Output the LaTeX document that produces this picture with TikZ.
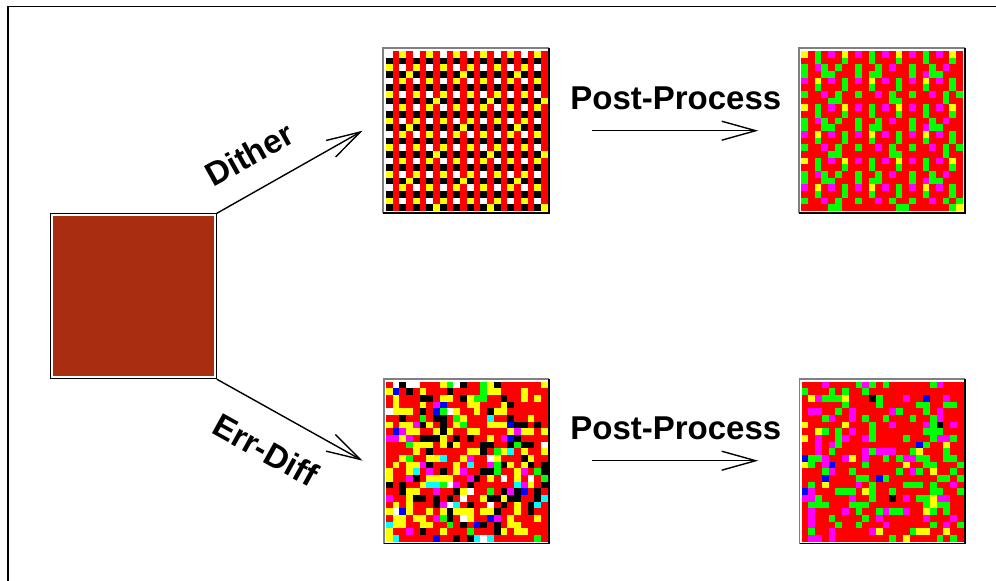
\documentclass[tikz,border=0pt]{standalone}
\usepackage{fontspec}
\setmainfont{Liberation Sans}
\usetikzlibrary{arrows.meta}
\definecolor{pcR}{RGB}{255,0,0}
\definecolor{pcY}{RGB}{255,255,0}
\definecolor{pcK}{RGB}{0,0,0}
\definecolor{pcW}{RGB}{255,255,255}
\definecolor{pcG}{RGB}{0,255,0}
\definecolor{pcM}{RGB}{255,0,255}
\definecolor{pcB}{RGB}{0,0,255}
\definecolor{pcC}{RGB}{0,255,255}
\definecolor{brownfill}{RGB}{169,45,17}
\definecolor{framegray}{RGB}{128,128,128}
\def\cw{6.74}
\def\ch{6.67}
\newcount\pgcol
\def\pgparse#1{\ifx#1.\else
  \fill[pc#1] ({\pgx+\the\pgcol*\cw},\pgy) rectangle ++(\cw+0.3,\ch+0.3);%
  \global\advance\pgcol by 1
  \expandafter\pgparse\fi}
\newcommand\pgimg[3]{%
  \def\pgx{#1}%
  \foreach \rowstr [count=\ri from 0] in {#3} {%
    \global\pgcol=0
    \pgfmathsetmacro\pgy{#2+\ri*\ch}%
    \expandafter\pgparse\rowstr.%
  }}
% random image: x, y, seed, cumulative thresholds R/Y/K/W/M/G/B (rest cyan)
\def\setthr#1/#2/#3/#4/#5/#6/#7\relax{%
  \def\tA{#1}\def\tB{#2}\def\tC{#3}\def\tD{#4}\def\tE{#5}\def\tF{#6}\def\tG{#7}}
\newcommand\rndimg[4]{%
  \setthr#4\relax
  \pgfmathsetseed{#3}%
  \foreach \r in {0,...,23}{\foreach \c in {0,...,23}{%
    \pgfmathrandominteger{\k}{1}{100}%
    \def\pick{pcR}%
    \ifnum\k>\tA\relax \def\pick{pcY}\fi
    \ifnum\k>\tB\relax \def\pick{pcK}\fi
    \ifnum\k>\tC\relax \def\pick{pcW}\fi
    \ifnum\k>\tD\relax \def\pick{pcM}\fi
    \ifnum\k>\tE\relax \def\pick{pcG}\fi
    \ifnum\k>\tF\relax \def\pick{pcB}\fi
    \ifnum\k>\tG\relax \def\pick{pcC}\fi
    \fill[\pick] ({#1+\c*\cw},{#2+\r*\ch}) rectangle ++(\cw+0.3,\ch+0.3);%
  }}}
\newcommand\imgframe[4]{%
  \draw[framegray, line width=1.5pt] (#1,#4) -- (#1,#2) -- (#3,#2);
  \draw[black, line width=1.5pt] (#3,#2) -- (#3,#4) -- (#1,#4);}
\begin{document}
\begin{tikzpicture}[x=1pt,y=-1pt,
  lbl/.style={font=\fontsize{33}{40}\selectfont\bfseries, inner sep=0pt, text height=23.6pt, text depth=0pt},
  arr/.style={-{Straight Barb[length=34pt,width=19pt]}, line width=1.4pt},
  imgbox/.style={inner sep=0pt, minimum width=166pt, minimum height=165pt}]
\useasboundingbox (0,0) rectangle (996,581);
\fill[white] (0,0) rectangle (996,581);
% outer frame
\draw[line width=1.2pt] (8,581) -- (8,6.2) -- (996,6.2);
% source
\node[draw=black, line width=1pt, fill=white, inner sep=0pt, minimum width=165.8pt, minimum height=164.9pt] (src) at (133.4,296.25) {};
\fill[brownfill] (52.7,216) rectangle (214,376);
% image nodes
\node[imgbox] (imA) at (466.2,130.5) {};
\node[imgbox] (imB) at (882,130.5) {};
\node[imgbox] (imC) at (466.5,461.3) {};
\node[imgbox] (imD) at (882.3,461.3) {};
% image A: dither
\pgimg{386}{51}{%
WRYRWRYRWRYRWRYRWRYRWRYR,KRKRKRKRKRKRKRKRKRKRKRKR,YRWRYRWRYRWRYRWRYRWRYRWR,KRKYKRKRKRKYKRKRKRKYKRKR,%
WRYRWRYRWRYRWRYRWRYRWRYR,KRKRKRKRKRKRKRKRKRKRKRKR,YRWRYRWRYRWRYRWRYRWRYRWR,KRKRKRKYKRKRKRKYKRKRKRKY,%
WRYRWRYRWRYRWRYRWRYRWRYR,KRKRKRKRKRKRKRKRKRKRKRKR,YRWRYRWRYRWRYRWRYRWRYRWR,KRKYKRKRKRKYKRKRKRKYKRKR,%
WRYRWRYRWRYRWRYRWRYRWRYR,KRKRKRKRKRKRKRKRKRKRKRKR,YRWRYRWRYRWRYRWRYRWRYRWR,KRKRKRKYKRKRKRKYKRKRKRKY,%
WRYRWRYRWRYRWRYRWRYRWRYR,KRKRKRKRKRKRKRKRKRKRKRKR,YRWRYRWRYRWRYRWRYRWRYRWR,KRKYKRKRKRKYKRKRKRKYKRKR,%
WRYRWRYRWRYRWRYRWRYRWRYR,KRKRKRKRKRKRKRKRKRKRKRKR,YRWRYRWRYRWRYRWRYRWRYRWR,KRKRKRKYKRKRKRKYKRKRKRKY}
% image B: post-processed dither
\pgimg{801.2}{51}{%
YRGRMRYRMRGRMRYRMRGRMRYR,RRGRRRGRRRGRRRGRRRGRRRGR,GRMGRGRRGRRGRMRRGRRGRMRR,GRRGGRRRGRGGRRRRGRMGGRRR,%
MRYRMRGRMRYRMRGRMRYRMRGR,RRGRRRGRRRGRRRGRRRGRRRGR,GRRMRGRRGRRMRGRRGRRMRGRG,RRRRGGRRRRRRRGGRRRRRRGRR,%
YRGRMRYRMRGRMRYRMRGRMRYR,RRGRRRGRRRGRRRGRRRGRRRGR,GRMGRGRRGRRGRMRRGRRGRMRR,GRRGGRRRGRGGRRRRGRMGGRRR,%
MRYRMRGRMRYRMRGRMRYRMRGR,RRGRRRGRRRGRRRGRRRGRRRGR,GRRMRGRRGRRMRGRRGRRMRGRG,RRRRGGRRRRRRRGGRRRRRRGRR,%
YRGRMRYRMRGRMRYRMRGRMRYR,RRGRRRGRRRGRRRGRRRGRRRGR,GRMGRGRRGRRGRMRRGRRGRMRR,GRRGGRRRGRGGRRRRGRMGGRRR,%
MRYRMRGRMRYRMRGRMRYRMRGR,RRGRRRGRRRGRRRGRRRGRRRGR,GRRMRGRRGRRMRGRRGRRMRGRG,RRRRGGRRRRRRRRGGRRRRRRGY}
\rndimg{386}{381.7}{5}{48/70/85/89/93/96/98}
\rndimg{801.7}{381.7}{41}{63/67/68/68/78/98/100}
% frames
\imgframe{383.2}{48}{549.2}{213}
\imgframe{799}{48}{965}{213}
\imgframe{384}{379}{549}{543.7}
\imgframe{799.7}{379}{965}{543.7}
% connectors
\coordinate (tA) at (362.7,130.7);
\coordinate (tC) at (362.7,460.7);
\coordinate (pA1) at (591.7,130.7);
\coordinate (pA2) at (758.3,130.7);
\coordinate (pC1) at (591.7,460.7);
\coordinate (pC2) at (758.3,460.7);
\draw[arr] (src.north east) -- (tA);
\draw[arr] (src.south east) -- (tC);
\draw[arr] (pA1) -- (pA2);
\draw[arr] (pC1) -- (pC2);
% labels
\node[lbl, rotate=29] (ldither) at (249.2,154.2) {Dither};
\node[lbl, rotate=-29] (lerr) at (265.7,450) {Err-Diff};
\node[lbl] (lpp1) at (675.8,97.5) {Post-Process};
\node[lbl] (lpp2) at (675.8,427.5) {Post-Process};
\end{tikzpicture}
\end{document}
